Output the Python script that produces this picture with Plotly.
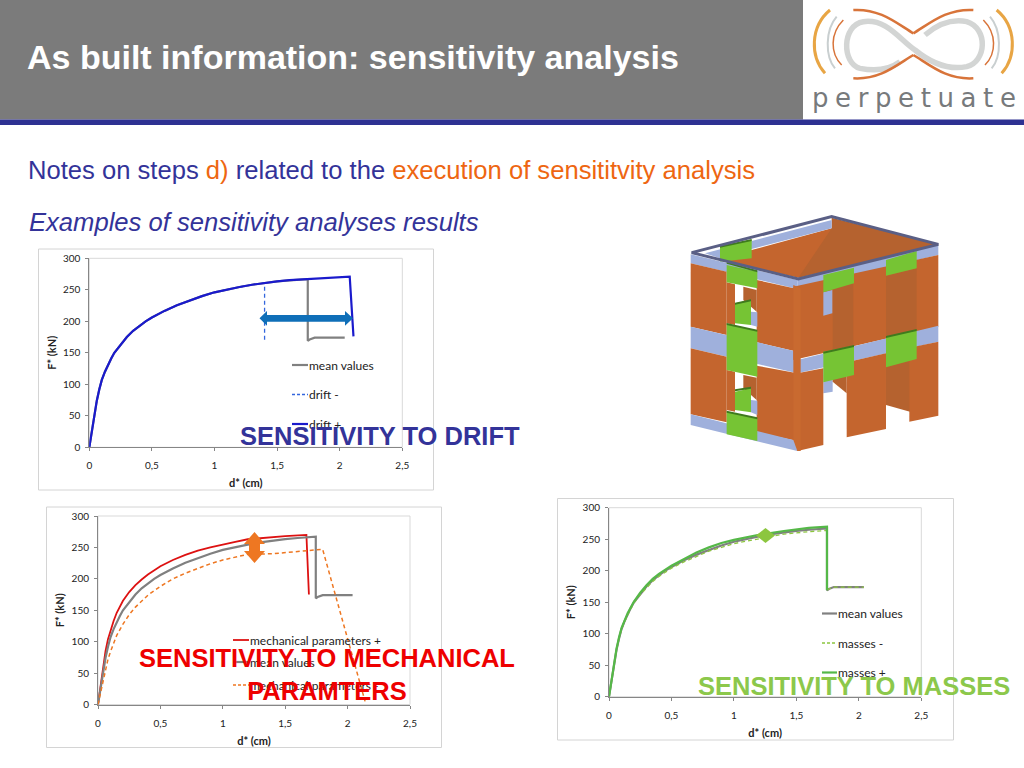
import plotly.graph_objects as go

# ---------- data ----------
tick_x_vals = [0, 0.5, 1, 1.5, 2, 2.5]
tick_x_text = ["0", "0,5", "1", "1,5", "2", "2,5"]
tick_y_vals = [0, 50, 100, 150, 200, 250, 300]

mean_d = [0, 0.02, 0.04, 0.06, 0.08, 0.1, 0.125, 0.15, 0.175, 0.2, 0.25, 0.3, 0.35, 0.4, 0.45, 0.5, 0.6, 0.7, 0.8, 0.9, 1, 1.1, 1.2, 1.3, 1.4, 1.5, 1.6, 1.7, 1.745, 1.745, 1.76, 1.8, 2.04]
mean_f = [0, 26, 52, 74, 92, 107, 120, 131, 141, 150, 163, 175, 185, 193, 200, 206, 216.5, 225.5, 233, 240, 246, 250.5, 254.5, 258, 261, 263.3, 265, 266.5, 267, 169, 171, 174, 174]

drift_minus_d = [0, 0.02, 0.04, 0.06, 0.08, 0.1, 0.125, 0.15, 0.175, 0.2, 0.25, 0.3, 0.35, 0.4, 0.45, 0.5, 0.6, 0.7, 0.8, 0.9, 1, 1.1, 1.2, 1.3, 1.4, 1.4]
drift_minus_f = [0, 26, 52, 74, 92, 107, 120, 131, 141, 150, 163, 175, 185, 193, 200, 206, 216.5, 225.5, 233, 240, 246, 250.5, 254.5, 258, 261, 168]

drift_plus_d = [0, 0.02, 0.04, 0.06, 0.08, 0.1, 0.125, 0.15, 0.175, 0.2, 0.25, 0.3, 0.35, 0.4, 0.45, 0.5, 0.6, 0.7, 0.8, 0.9, 1, 1.1, 1.2, 1.3, 1.4, 1.5, 1.6, 1.8, 2.08, 2.11]
drift_plus_f = [0, 26, 52, 74, 92, 107, 120, 131, 141, 150, 163, 175, 185, 193, 200, 206, 216.5, 225.5, 233, 240, 246, 250.5, 254.5, 258, 261, 263.5, 265.5, 268, 271, 176]

mech_plus_d = [0, 0.02, 0.04, 0.06, 0.08, 0.1, 0.125, 0.15, 0.175, 0.2, 0.25, 0.3, 0.35, 0.4, 0.5, 0.6, 0.7, 0.8, 0.9, 1, 1.1, 1.2, 1.35, 1.5, 1.67, 1.69]
mech_plus_f = [0, 30, 60, 85, 104, 118, 133, 146, 156, 165, 179, 190, 199, 207, 220, 230, 238, 245, 250, 255, 259, 263, 266, 268, 270, 175]

mech_minus_d = [0, 0.02, 0.04, 0.06, 0.08, 0.1, 0.125, 0.15, 0.2, 0.25, 0.3, 0.35, 0.4, 0.5, 0.6, 0.7, 0.8, 0.9, 1, 1.1, 1.2, 1.4, 1.6, 1.8, 2.14]
mech_minus_f = [0, 18, 38, 58, 72, 84, 98, 110, 128, 143, 155, 165, 174, 188, 200, 209, 217, 224, 230, 235, 239, 240, 243, 247, 5]

masses_minus_d = [0, 0.02, 0.04, 0.06, 0.08, 0.1, 0.15, 0.2, 0.25, 0.3, 0.35, 0.4, 0.5, 0.6, 0.7, 0.8, 0.9, 1, 1.1, 1.2, 1.4, 1.6, 1.745, 1.745, 1.76, 1.8, 2.04]
masses_minus_f = [0, 26, 52, 74, 92, 107, 130, 149, 162, 173, 183, 191, 204, 214, 223, 231, 237, 243, 247, 251, 258, 262, 264, 169, 171, 174, 174]

masses_plus_d = [0, 0.02, 0.04, 0.06, 0.08, 0.1, 0.15, 0.2, 0.25, 0.3, 0.35, 0.4, 0.5, 0.6, 0.7, 0.8, 0.9, 1, 1.1, 1.2, 1.4, 1.6, 1.745, 1.745]
masses_plus_f = [0, 26, 53, 76, 94, 109, 133, 151, 165, 177, 187, 195, 208, 219, 229, 237, 244, 249, 253, 257, 263, 268, 270, 169]

GREY, BLUE, DBLUE = "#808080", "#3366dd", "#1a1acc"
RED, ORANGE = "#dd1111", "#ee7722"
LGREEN, GREEN = "#8cc63f", "#55b848"
NAVY = "#333399"
W, H = 1024, 768


def X(px):
    return px / W


def Y(py):
    return 1 - py / H


charts = [
    dict(frame=(38.5, 249, 433.5, 490), plot=(89.3, 258.3, 402.3, 447.3),
         series=[(mean_d, mean_f, GREY, "solid", 2.2, "mean values"),
                 (drift_minus_d, drift_minus_f, BLUE, "dash", 1.3, "drift -"),
                 (drift_plus_d, drift_plus_f, DBLUE, "solid", 2.2, "drift +")],
         legend=(292, 308, [365, 394.5, 424])),
    dict(frame=(46.5, 507, 441.5, 747.5), plot=(98, 516, 410, 704.5),
         series=[(mech_plus_d, mech_plus_f, RED, "solid", 1.8, "mechanical parameters +"),
                 (mean_d, mean_f, GREY, "solid", 2.2, "mean values"),
                 (mech_minus_d, mech_minus_f, ORANGE, "dash", 1.5, "mechanical parameters -")],
         legend=(233, 249, [640, 662, 685])),
    dict(frame=(557.5, 498.5, 953.5, 740), plot=(609, 507.7, 921.3, 696.7),
         series=[(mean_d, mean_f, GREY, "solid", 2.2, "mean values"),
                 (masses_minus_d, masses_minus_f, LGREEN, "dash", 1.3, "masses -"),
                 (masses_plus_d, masses_plus_f, GREEN, "solid", 2.2, "masses +")],
         legend=(822, 837, [613.5, 643, 672.5])),
]

fig = go.Figure()
shapes, anns = [], []


def rect(x0, y0, x1, y1, fill, line=None, lw=0, layer="below"):
    shapes.append(dict(type="rect", xref="paper", yref="paper", x0=X(x0), x1=X(x1), y0=Y(y0), y1=Y(y1),
                       fillcolor=fill, line=dict(color=line or fill, width=lw), layer=layer))


def poly(points, fill, ox=0, oy=0, s=1.0, line=None, lw=0, layer="below"):
    path = "M " + " L ".join(f"{X(ox + p[0] * s):.5f},{Y(oy + p[1] * s):.5f}" for p in points) + " Z"
    shapes.append(dict(type="path", xref="paper", yref="paper", path=path, fillcolor=fill,
                       line=dict(color=line or fill, width=lw), layer=layer))


def text(x, y, s, size, color, family="Liberation Sans", xa="left", ya="middle", align="left"):
    anns.append(dict(xref="paper", yref="paper", x=X(x), y=Y(y), text=s, showarrow=False, xanchor=xa,
                     yanchor=ya, align=align, borderpad=0,
                     font=dict(family=family, size=size, color=color)))


# ---------- slide background ----------
rect(0, 0, 803, 119.5, "#7b7b7b")
rect(0, 119.5, 1024, 125, "#2e3192")

text(26, 57, "<b>As built information: sensitivity analysis</b>", 34, "#ffffff")
text(27, 170, f"Notes on steps <span style='color:#ee6611'>d)</span> related to the "
              f"<span style='color:#ee6611'>execution of sensititvity analysis</span>", 25.6, NAVY)
text(28, 222, "<i>Examples of sensitivity analyses results</i>", 25.6, NAVY)

# ---------- three charts ----------
for i, c in enumerate(charts):
    fx0, fy0, fx1, fy1 = c["frame"]
    px0, py0, px1, py1 = c["plot"]
    rect(fx0, fy0, fx1, fy1, "#ffffff", "#d4d4d4", 1)
    rect(px0, py0, px1, py1, "#ffffff", "#d9d9d9", 1)
    sfx = "" if i == 0 else str(i + 1)
    for dx, fy, col, dash, lw, name in c["series"]:
        fig.add_trace(go.Scatter(x=dx, y=fy, mode="lines", name=name, xaxis="x" + sfx, yaxis="y" + sfx,
                                 line=dict(color=col, dash="4px,3px" if dash == "dash" else "solid", width=lw),
                                 showlegend=False, hoverinfo="skip"))
    ax_x = dict(domain=[X(px0), X(px1)], range=[0, 2.5], tickmode="array", tickvals=tick_x_vals,
                ticktext=tick_x_text, anchor="y" + sfx, showgrid=False, zeroline=False, showline=True,
                automargin=False, linecolor="#868686", linewidth=1, ticks="outside", ticklen=3, tickcolor="#868686",
                ticklabelstandoff=6, tickfont=dict(family="Lato", size=10, color="#222222"),
                title=dict(text="<b>d* (cm)</b>", standoff=9, font=dict(family="Lato", size=11, color="#222222")))
    ax_y = dict(domain=[Y(py1), Y(py0)], range=[0, 300], tickmode="array", tickvals=tick_y_vals,
                anchor="x" + sfx, showgrid=False, zeroline=False, showline=True,
                automargin=False, linecolor="#868686", linewidth=1, ticks="outside", ticklen=3, tickcolor="#868686",
                ticklabelstandoff=3, tickfont=dict(family="Lato", size=10, color="#222222"),
                title=dict(text="<b>F* (kN)</b>", standoff=4, font=dict(family="Lato", size=11, color="#222222")))
    fig.update_layout(**{"xaxis" + sfx: ax_x, "yaxis" + sfx: ax_y})
    lx0, lx1, lys = c["legend"]
    for (dx, fy, col, dash, lw, name), ly in zip(c["series"], lys):
        shapes.append(dict(type="line", xref="paper", yref="paper", x0=X(lx0), x1=X(lx1), y0=Y(ly), y1=Y(ly),
                           line=dict(color=col, width=lw, dash="3px,2px" if dash == "dash" else "solid"),
                           layer="above"))
        text(lx1, ly, name, 12, "#222222", family="Lato")

# ---------- block arrows on the charts ----------
poly([(259.5, 318.3), (267, 311), (267, 315), (345, 315), (345, 311), (353, 318.3), (345, 325.7),
      (345, 321.7), (267, 321.7), (267, 325.7)], "#0f6fb8", layer="above")
poly([(254.5, 532), (265, 544), (260, 544), (260, 551), (265, 551), (254.5, 563), (244, 551), (249, 551),
      (249, 544), (244, 544)], ORANGE, layer="above")
poly([(765.5, 528), (775, 535.5), (765.5, 543), (756, 535.5)], "#8cc63f", layer="above")

# ---------- sensitivity captions ----------
text(380, 436, "<b>SENSITIVITY TO DRIFT</b>", 25.5, NAVY, xa="center")
text(327, 674, "<b>SENSITIVITY TO MECHANICAL<br>PARAMTERS</b>", 25.5, "#ee0000", xa="center", align="center")
text(853.5, 686, "<b>SENSITIVITY TO MASSES</b>", 25.5, "#8cc84b", xa="center")

# ---------- building model (zoomed-crop coordinates, scale 1/3) ----------
BX, BY, BS = 680, 205, 1 / 3
ORG, ORG2, ORG3, ICE, GRN, DGRN, FRM = "#c4652e", "#b5622f", "#c96a30", "#9fb0dc", "#76c434", "#3f7a1e", "#5a5f85"
bp = lambda pts, col: poly(pts, col, BX, BY, BS, layer="above")

bp([(120, 165), (215, 135), (455, 70), (740, 125), (355, 218)], ORG)
bp([(455, 38), (775, 118), (740, 130), (355, 218), (455, 70)], ORG2)
bp([(75, 145), (455, 45), (455, 70), (215, 132), (120, 160)], ICE)
bp([(120, 125), (215, 105), (215, 160), (120, 170)], GRN)
# interior seen through the openings
bp([(430, 490), (458, 485), (458, 560), (430, 565)], ICE)
bp([(458, 480), (500, 470), (500, 565), (458, 530)], ORG2)
bp([(618, 440), (690, 425), (690, 620), (618, 600)], ORG2)
# left face
bp([(32, 148), (352, 225), (352, 252), (32, 175)], ICE)
bp([(32, 175), (140, 200), (140, 390), (32, 365)], ORG)
bp([(230, 225), (352, 252), (352, 440), (230, 412)], ORG)
bp([(140, 232), (165, 238), (165, 360), (140, 355)], ORG)
bp([(190, 245), (230, 255), (230, 320), (190, 285)], ORG2)
bp([(165, 295), (213, 285), (213, 360), (165, 355)], GRN)
bp([(213, 320), (232, 322), (232, 365), (213, 360)], ICE)
bp([(32, 365), (352, 440), (352, 505), (32, 430)], ICE)
bp([(32, 430), (140, 455), (140, 652), (32, 628)], ORG)
bp([(230, 482), (352, 505), (352, 708), (230, 682)], ORG)
bp([(140, 495), (165, 500), (165, 620), (140, 615)], ORG)
bp([(190, 510), (230, 518), (230, 585), (190, 550)], ORG2)
bp([(165, 560), (213, 550), (213, 622), (165, 615)], GRN)
bp([(213, 585), (232, 587), (232, 630), (213, 622)], ICE)
bp([(32, 628), (352, 708), (352, 738), (32, 660)], ICE)
bp([(140, 180), (232, 200), (232, 250), (140, 232)], GRN)
bp([(140, 358), (232, 378), (232, 515), (140, 495)], GRN)
bp([(140, 620), (232, 640), (232, 708), (140, 688)], GRN)
# right face
bp([(352, 225), (775, 120), (775, 150), (352, 250)], ICE)
bp([(340, 245), (775, 150), (775, 365), (340, 465)], ORG)
bp([(458, 250), (520, 235), (520, 420), (458, 440)], ORG2)
bp([(618, 212), (710, 190), (710, 378), (618, 400)], ORG2)
bp([(352, 465), (775, 362), (775, 410), (352, 505)], ICE)
bp([(352, 505), (430, 490), (430, 720), (352, 738)], ORG)
bp([(500, 472), (618, 445), (618, 672), (500, 697)], ORG)
bp([(688, 428), (775, 410), (775, 632), (688, 650)], ORG)
bp([(430, 262), (457, 255), (457, 325), (430, 332)], ICE)
bp([(340, 240), (362, 250), (362, 738), (352, 738), (340, 705)], ORG3)
for g in [[(430, 210), (522, 188), (522, 235), (430, 262)], [(618, 165), (710, 138), (710, 190), (618, 212)],
          [(430, 440), (522, 422), (522, 510), (430, 532)], [(618, 395), (710, 375), (710, 462), (618, 487)]]:
    bp(g, GRN)
for e in [[(430, 440), (522, 420), (522, 426), (430, 446)], [(618, 393), (710, 372), (710, 378), (618, 399)],
          [(140, 354), (232, 374), (232, 380), (140, 360)], [(140, 617), (232, 637), (232, 643), (140, 623)],
          [(165, 293), (213, 283), (213, 289), (165, 299)], [(165, 553), (213, 545), (213, 551), (165, 559)],
          [(120, 122), (215, 102), (215, 108), (120, 128)], [(140, 170), (232, 196), (232, 202), (140, 176)]]:
    bp(e, DGRN)
shapes.append(dict(type="path", xref="paper", yref="paper", layer="above",
                   path="M " + " L ".join(f"{X(BX + a * BS):.5f},{Y(BY + b * BS):.5f}" for a, b in
                                          [(35, 143), (455, 35), (775, 118), (355, 222)]) + " Z",
                   line=dict(color=FRM, width=3)))

# ---------- logo (zoomed-crop coordinates, scale 1/3) ----------


def curve(d, col, lw):
    out = []
    for t in d.split():
        if "," in t:
            a, b = t.split(",")
            out.append(f"{X(800 + float(a) / 3):.5f},{Y(float(b) / 3):.5f}")
        else:
            out.append(t)
    shapes.append(dict(type="path", xref="paper", yref="paper", path=" ".join(out),
                       line=dict(color=col, width=lw), layer="above"))


curve("M 300,185 C 260,215 215,212 180,205 C 125,190 125,75 190,65 C 260,55 300,120 345,150 "
      "C 400,195 450,210 500,200 C 560,185 565,85 500,65 C 450,55 410,75 375,105", "#d3d5d4", 5.5)
curve("M 160,30 C 240,25 290,70 340,100", "#d8743a", 2.5)
curve("M 520,30 C 440,25 390,70 340,100", "#d8743a", 2.5)
curve("M 160,235 C 240,240 290,195 340,165", "#d8743a", 2.5)
curve("M 520,235 C 440,240 390,195 340,165", "#d8743a", 2.5)
curve("M 90,30 C 30,80 30,170 75,220", "#e8a544", 3)
curve("M 590,30 C 650,80 650,170 605,220", "#e8a544", 3)
curve("M 110,50 C 75,90 75,170 105,205", "#c9cfd0", 2)
curve("M 570,50 C 605,90 605,170 575,205", "#c9cfd0", 2)
curve("M 130,60 C 90,100 90,160 125,195", "#d8743a", 1.5)
curve("M 550,60 C 590,100 590,160 555,195", "#d8743a", 1.5)
text(811, 98, "perpetuate", 26, "#777a7c", family="DejaVu Sans")

fig.update_layout(width=W, height=H, margin=dict(l=0, r=0, t=0, b=0, autoexpand=False), paper_bgcolor="#ffffff",
                  plot_bgcolor="rgba(0,0,0,0)", shapes=shapes, annotations=anns, showlegend=False)

fig.write_html("out.html", config=dict(displayModeBar=False),
               post_script="document.body.style.margin='0';document.body.style.overflow='hidden';"
                           "document.querySelectorAll('.annotation-text').forEach(function(t){"
                           "if(t.textContent==='perpetuate'){t.style.letterSpacing='6.6px';}});")
